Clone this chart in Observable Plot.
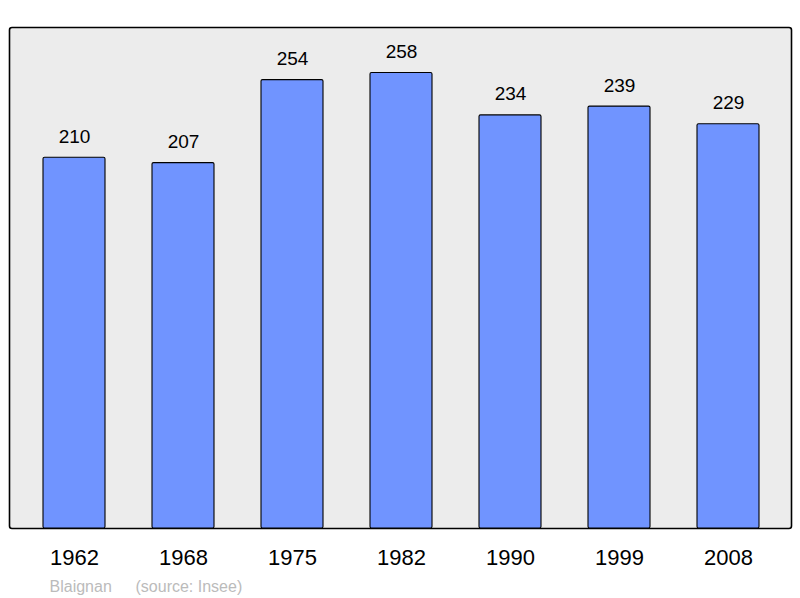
<!DOCTYPE html>
<html>
<head>
<meta charset="utf-8">
<script src="https://cdn.jsdelivr.net/npm/d3@7"></script>
<script src="https://cdn.jsdelivr.net/npm/@observablehq/plot@0.6"></script>
<style>
  html, body { margin: 0; padding: 0; background: #fff; }
  #chart svg { display: block; }
</style>
</head>
<body>
<div id="chart"></div>
<script>
const years = ["1962", "1968", "1975", "1982", "1990", "1999", "2008"];
const population = [210, 207, 254, 258, 234, 239, 229];
const commune = "Blaignan";
const source = "(source: Insee)";

const data = years.map((y, i) => ({year: y, value: population[i]}));
const yMax = d3.max(population) * 1.1;

const chart = Plot.plot({
  width: 800,
  height: 598,
  marginTop: 27,
  marginBottom: 70,
  marginLeft: 9,
  marginRight: 9,
  style: {fontFamily: "'Liberation Sans', Arial, sans-serif", background: "#fff"},
  x: {type: "band", domain: years, range: [42.1, 761], paddingInner: 0.43, paddingOuter: 0, label: null},
  y: {domain: [0, yMax], axis: null},
  marks: [
    Plot.frame({fill: "#ececec", stroke: "#000", strokeWidth: 1.6, rx: 2.5}),
    Plot.barY(data, {x: "year", y: "value", fill: "#7094ff", stroke: "#000", strokeWidth: 1.1, rx: 1.5}),
    Plot.text(data, {x: "year", y: "value", text: d => String(d.value), dy: -15, lineAnchor: "bottom", fontSize: 19, fill: "#000"}),
    Plot.axisX({tickSize: 0, tickPadding: 21, fontSize: 22, color: "#000"}),
    Plot.text([commune], {frameAnchor: "bottom-left", dx: 40, dy: 63, lineAnchor: "bottom", fontSize: 16, fill: "#bbb"}),
    Plot.text([source], {frameAnchor: "bottom-left", dx: 126, dy: 63, lineAnchor: "bottom", fontSize: 16, fill: "#bbb"})
  ]
});
document.getElementById("chart").append(chart);
</script>
</body>
</html>
